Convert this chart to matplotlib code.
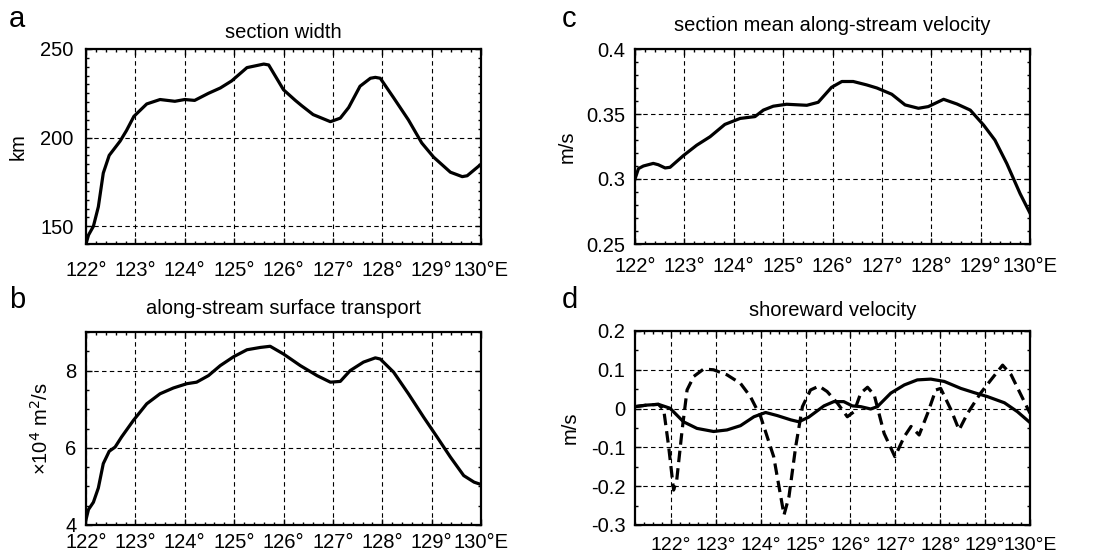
import matplotlib
matplotlib.use("Agg")
import matplotlib.pyplot as plt
from matplotlib.ticker import MultipleLocator
import numpy as np

plt.rcParams['font.family'] = ['Liberation Sans', 'DejaVu Sans']

# ---- data ----
lon_a = [122.0, 122.05, 122.15, 122.25, 122.35, 122.47, 122.69, 122.82, 122.97, 123.23, 123.5, 123.8,
         124.0, 124.2, 124.48, 124.72, 124.95, 125.26, 125.6, 125.7, 126.0, 126.24, 126.37, 126.6,
         126.95, 127.15, 127.32, 127.55, 127.76, 127.86, 127.96, 128.23, 128.53, 128.8, 129.04,
         129.38, 129.62, 129.72, 130.0]
width_km = [140, 145, 150, 161, 180, 190, 198, 204, 212, 219, 221.5, 220.5,
            221.5, 221, 225, 228, 232, 239.5, 241.5, 241, 227, 221, 218, 213,
            209, 211, 217, 229, 233.5, 234, 233.5, 222.5, 210, 197, 189,
            180.5, 178, 178.5, 185]

lon_b = [122.0, 122.05, 122.15, 122.25, 122.35, 122.47, 122.59, 122.72, 122.96, 123.23, 123.5, 123.77,
         124.04, 124.24, 124.48, 124.72, 124.99, 125.26, 125.53, 125.73, 126.0, 126.34, 126.68,
         126.95, 127.15, 127.35, 127.62, 127.86, 127.96, 128.23, 128.53, 128.84, 129.11, 129.38,
         129.65, 129.86, 130.0]
transport = [4.14, 4.4, 4.59, 4.96, 5.59, 5.91, 6.02, 6.28, 6.71, 7.14, 7.40, 7.55,
             7.66, 7.70, 7.87, 8.13, 8.36, 8.54, 8.60, 8.63, 8.43, 8.13, 7.87,
             7.70, 7.72, 8.0, 8.22, 8.33, 8.30, 7.96, 7.40, 6.79, 6.28, 5.76,
             5.28, 5.11, 5.05]

lon_c = [122.0, 122.07, 122.17, 122.37, 122.47, 122.61, 122.71, 122.98, 123.25, 123.52, 123.82, 124.13,
         124.43, 124.6, 124.8, 125.07, 125.48, 125.71, 125.98, 126.19, 126.42, 126.69, 126.9,
         127.2, 127.47, 127.74, 127.94, 128.25, 128.52, 128.79, 129.06, 129.29, 129.53, 129.8, 130.0]
mean_vel = [0.300, 0.308, 0.310, 0.312, 0.311, 0.3085, 0.309, 0.318, 0.326, 0.3325, 0.342, 0.3466,
            0.348, 0.353, 0.356, 0.3575, 0.3567, 0.359, 0.3705, 0.375, 0.375, 0.3724, 0.370,
            0.3652, 0.357, 0.3544, 0.3557, 0.3613, 0.3577, 0.353, 0.3415, 0.3299, 0.3119, 0.2887, 0.2737]

lon_d_solid = [121.2, 121.46, 121.72, 121.98, 122.28, 122.58, 122.95, 123.25, 123.55, 123.85, 124.11,
               124.37, 124.67, 124.85, 125.07, 125.41, 125.63, 125.85, 126.04, 126.23, 126.45, 126.6,
               126.9, 127.2, 127.49, 127.79, 128.09, 128.46, 128.76, 129.05, 129.43, 129.72, 130.0]
shore_solid = [0.005, 0.009, 0.011, 0.001, -0.034, -0.051, -0.059, -0.055, -0.044, -0.021, -0.01,
               -0.018, -0.029, -0.034, -0.022, 0.007, 0.018, 0.018, 0.007, 0.005, -0.001, 0.005,
               0.04, 0.061, 0.074, 0.076, 0.07, 0.052, 0.041, 0.031, 0.015, -0.008, -0.036]

lon_d_dash = [121.2, 121.46, 121.72, 121.84, 121.95, 122.06, 122.13, 122.25, 122.36, 122.51, 122.73,
              122.95, 123.25, 123.55, 123.77, 124.0, 124.29, 124.52, 124.63, 124.78, 124.93, 125.11,
              125.3, 125.48, 125.71, 125.93, 126.08, 126.23, 126.38, 126.53, 126.75, 126.99, 127.2,
              127.35, 127.53, 127.72, 127.9, 128.01, 128.24, 128.42, 128.61, 128.9, 129.13, 129.39,
              129.58, 129.8, 130.0]
shore_dash = [0.005, 0.009, 0.011, -0.003, -0.098, -0.21, -0.184, -0.055, 0.048, 0.083, 0.102,
              0.1, 0.087, 0.065, 0.031, -0.021, -0.124, -0.274, -0.227, -0.098, 0.005, 0.048,
              0.058, 0.044, 0.014, -0.021, -0.008, 0.04, 0.055, 0.035, -0.064, -0.124, -0.072,
              -0.046, -0.068, -0.012, 0.048, 0.052, -0.003, -0.055, -0.012, 0.04, 0.074, 0.112,
              0.087, 0.035, -0.012]

xticks = [122, 123, 124, 125, 126, 127, 128, 129, 130]
xticklabels = ['122°', '123°', '124°', '125°', '126°', '127°', '128°', '129°', '130°E']

fig = plt.figure(figsize=(11.01, 5.58), dpi=100)
W, H = 1101, 558

def add_ax(l, t, r, b):
    return fig.add_axes([l / W, 1 - b / H, (r - l) / W, (b - t) / H])

axa = add_ax(86, 49, 481, 244)
axc = add_ax(635, 49, 1030, 244)
axb = add_ax(86, 332, 481, 525)
axd = add_ax(635, 331, 1030, 525)

FS = 14.5

def style(ax, xlim, ylim, yticks, ylabels, yminor, title, ylabel,
          xpad, ypad, tpad, ylx, xfs=FS):
    ax.set_xlim(*xlim)
    ax.set_ylim(*ylim)
    ax.set_xticks(xticks)
    ax.set_xticklabels(xticklabels, fontsize=xfs)
    ax.set_yticks(yticks)
    ax.set_yticklabels(ylabels, fontsize=FS)
    ax.xaxis.set_minor_locator(MultipleLocator(0.2))
    ax.yaxis.set_minor_locator(MultipleLocator(yminor))
    ax.tick_params(which='both', direction='in', top=True, right=True, width=1.0)
    ax.tick_params(which='major', length=4)
    ax.tick_params(which='minor', length=2.5)
    ax.tick_params(axis='x', which='major', pad=xpad)
    ax.tick_params(axis='y', which='major', pad=ypad)
    ax.grid(True, which='major', color='black', linestyle=(0, (4, 3)), linewidth=0.8)
    for s in ax.spines.values():
        s.set_linewidth(1.6)
    ax.set_title(title, fontsize=FS, pad=tpad)
    ax.set_ylabel(ylabel, fontsize=FS)
    ax.yaxis.set_label_coords(ylx, 0.5)

axa.plot(lon_a, width_km, color='black', lw=2.3)
style(axa, (122, 130), (140, 250), [150, 200, 250], ['150', '200', '250'], 5,
      'section width', 'km', xpad=12, ypad=9, tpad=8, ylx=-0.147)

axb.plot(lon_b, transport, color='black', lw=2.3)
style(axb, (122, 130), (4, 9), [4, 6, 8], ['4', '6', '8'], 0.5,
      'along-stream surface transport', '×10$^4$ m$^2$/s', xpad=6, ypad=7, tpad=13, ylx=-0.086)

axc.plot(lon_c, mean_vel, color='black', lw=2.3)
style(axc, (122, 130), (0.25, 0.4), [0.25, 0.3, 0.35, 0.4], ['0.25', '0.3', '0.35', '0.4'], 0.01,
      'section mean along-stream velocity', 'm/s', xpad=9.5, ypad=7, tpad=13, ylx=-0.147)

axd.plot(lon_d_solid, shore_solid, color='black', lw=2.3)
axd.plot(lon_d_dash, shore_dash, color='black', lw=2.3, linestyle=(0, (3.6, 1.9)))
style(axd, (121.2, 130), (-0.3, 0.2), [-0.3, -0.2, -0.1, 0, 0.1, 0.2],
      ['-0.3', '-0.2', '-0.1', '0', '0.1', '0.2'], 0.05,
      'shoreward velocity', 'm/s', xpad=9, ypad=7, tpad=11, ylx=-0.139, xfs=14)

for lab, x, y in [('a', 9, 5), ('c', 562, 5), ('b', 9, 286), ('d', 562, 286)]:
    fig.text(x / W, 1 - y / H, lab, fontsize=21, va='top', ha='left')

fig.savefig('out.png', dpi=100)
